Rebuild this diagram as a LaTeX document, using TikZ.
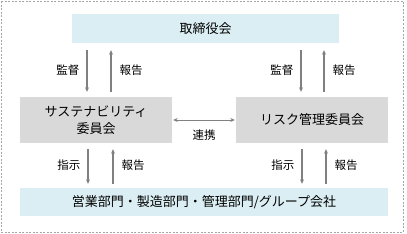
\documentclass[tikz,border=0pt]{standalone}
\usepackage{fontspec}
\newfontfamily\jpfont{Noto Sans CJK JP}
\usetikzlibrary{arrows.meta,positioning}
\definecolor{paleblue}{HTML}{DBEEF3}
\definecolor{boxgray}{HTML}{D9D9D9}
\definecolor{arrgray}{HTML}{808080}
\definecolor{framegray}{HTML}{A6A6A6}

\begin{document}
\begin{tikzpicture}[
  x=1pt, y=-1pt, font=\jpfont,
  >={Stealth[length=4.5pt, width=4pt]},
  blue/.style={rectangle, fill=paleblue, inner sep=0pt, align=center,
               font=\jpfont\fontsize{13}{16}\selectfont},
  comm/.style={rectangle, fill=boxgray, inner sep=0pt, align=center,
               minimum width=152pt, minimum height=46pt,
               font=\jpfont\fontsize{13}{17}\selectfont},
  arr/.style={->, line width=1.2pt, draw=arrgray},
  lab/.style={font=\jpfont\fontsize{11.5}{14}\selectfont, inner sep=0pt}
]
\useasboundingbox (0,0) rectangle (407,233);

%% frame
\draw[framegray, dashed, line width=0.8pt, dash pattern=on 2pt off 1.5pt] (1,1) rectangle (403,232);

%% boxes
\node[blue, minimum width=267pt, minimum height=29pt] (board) at (205.5, 28.5) {取締役会};
\node[comm] (sus) at (96, 120) {サステナビリティ\\委員会};
\node[comm] (risk) at (312, 120) {リスク管理委員会};
\node[blue, minimum width=368pt, minimum height=28pt] (dept) at (204, 202) {営業部門・製造部門・管理部門/グループ会社};

%% arrow columns
\coordinate (c1) at (87, 0);
\coordinate (c2) at (111, 0);
\coordinate (c3) at (301, 0);
\coordinate (c4) at (324, 0);
\coordinate (d1) at (88, 0);
\coordinate (d2) at (113, 0);
\coordinate (d3) at (302, 0);
\coordinate (d4) at (326, 0);

%% board <-> committees
\draw[arr, shorten <=7pt, shorten >=5pt] (board.south -| c1) -- node[lab, left=7pt] {監督} (sus.north -| c1);
\draw[arr, shorten <=5pt, shorten >=7pt] (sus.north -| c2) -- node[lab, right=8pt] {報告} (board.south -| c2);
\draw[arr, shorten <=7pt, shorten >=5pt] (board.south -| c3) -- node[lab, left=7pt] {監督} (risk.north -| c3);
\draw[arr, shorten <=5pt, shorten >=7pt] (risk.north -| c4) -- node[lab, right=8pt] {報告} (board.south -| c4);

%% committees <-> departments
\draw[arr, shorten <=6pt, shorten >=4pt] (sus.south -| d1) -- node[lab, left=7pt] {指示} (dept.north -| d1);
\draw[arr, shorten <=4pt, shorten >=6pt] (dept.north -| d2) -- node[lab, right=8pt] {報告} (sus.south -| d2);
\draw[arr, shorten <=6pt, shorten >=4pt] (risk.south -| d3) -- node[lab, left=7pt] {指示} (dept.north -| d3);
\draw[arr, shorten <=4pt, shorten >=6pt] (dept.north -| d4) -- node[lab, right=8pt] {報告} (risk.south -| d4);

%% link
\draw[arr, <->, line width=1pt, shorten <=1pt, shorten >=1pt] (sus) -- node[lab, below=9pt] {連携} (risk);
\end{tikzpicture}
\end{document}
